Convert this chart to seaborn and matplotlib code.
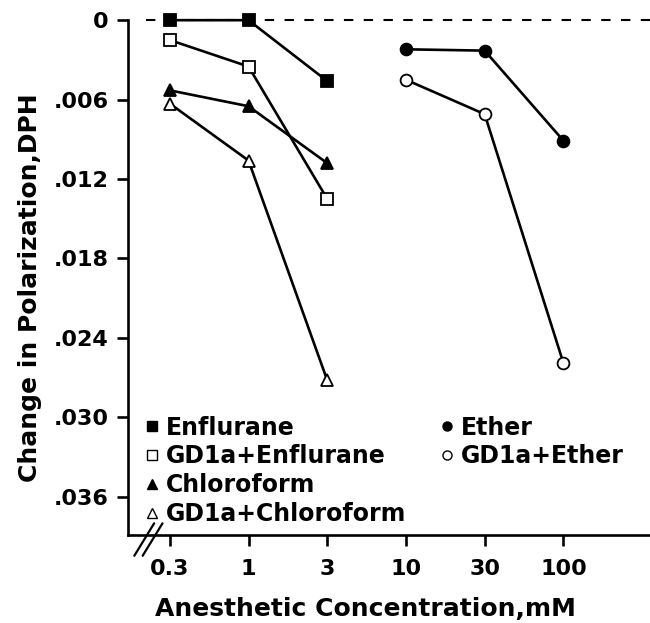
import numpy as np
import pandas as pd
import seaborn as sns
import matplotlib.pyplot as plt
from matplotlib.lines import Line2D

sns.set_style("ticks")
plt.rcParams['font.family'] = ['DejaVu Sans']
plt.rcParams['font.weight'] = 'bold'
for k in ['text.color', 'axes.labelcolor', 'xtick.color', 'ytick.color',
          'axes.edgecolor']:
    plt.rcParams[k] = 'black'


# DATOS
concentrations = ["0.3", "1", "3", "10", "30", "100"]
conc_low  = ["0.3", "1", "3"]
conc_high = ["10", "30", "100"]

enflurane       = [0.0000, 0.0000, 0.0046]
gd1a_enflurane  = [0.0015, 0.0035, 0.0135]
chloroform      = [0.0053, 0.0065, 0.0108]
gd1a_chloroform = [0.0063, 0.0106, 0.0272]
ether           = [0.0022, 0.0023, 0.0091]
gd1a_ether      = [0.0045, 0.0071, 0.0259]

yticks       = [0, 0.006, 0.012, 0.018, 0.024, 0.030, 0.036]
ytick_labels = ["0", ".006", ".012", ".018", ".024", ".030", ".036"]

series = [
    ("Enflurane",        conc_low,  enflurane,       "s", "black"),
    ("GD1a+Enflurane",   conc_low,  gd1a_enflurane,  "s", "white"),
    ("Chloroform",       conc_low,  chloroform,      "^", "black"),
    ("GD1a+Chloroform",  conc_low,  gd1a_chloroform, "^", "white"),
    ("Ether",            conc_high, ether,           "o", "black"),
    ("GD1a+Ether",       conc_high, gd1a_ether,      "o", "white"),
]


fig = plt.figure(figsize=(6.5, 6.23), dpi=100)
ax = fig.add_axes([0.197, 0.141, 0.803, 0.8266])

pos = {c: i for i, c in enumerate(concentrations)}

for name, conc, vals, marker, face in series:
    df = pd.DataFrame({"x": [pos[c] for c in conc], "y": vals})
    sns.lineplot(data=df, x="x", y="y", ax=ax, color="black", lw=1.9,
                 marker=marker, markersize=8.5, markerfacecolor=face,
                 markeredgecolor="black", markeredgewidth=1.3, clip_on=False)

ax.axhline(0, xmin=0.035, xmax=1, color="black", lw=1.5, dashes=(4.5, 5),
           clip_on=False, zorder=0)

ax.set_xlim(-0.53, 6.1)
ax.set_ylim(0.0389, 0)
ax.set_xticks(range(len(concentrations)))
ax.set_xticklabels(concentrations)
ax.set_yticks(yticks)
ax.set_yticklabels(ytick_labels)

for s in ["top", "right"]:
    ax.spines[s].set_visible(False)
for s in ["left", "bottom"]:
    ax.spines[s].set_linewidth(1.9)

ax.tick_params(axis='both', which='major', labelsize=16, width=1.9, length=8,
               direction='out', pad=6)
ax.tick_params(axis='x', pad=9)

ax.set_xlabel("Anesthetic Concentration,mM", fontsize=18, fontweight='bold')
ax.set_ylabel("Change in Polarization,DPH", fontsize=18, fontweight='bold')
ax.xaxis.set_label_coords(0.454, -0.12)
ax.yaxis.set_label_coords(-0.165, 0.48)

# marcas de corte del eje
for dx in [0.0, 0.016]:
    ax.plot([0.012 + dx, 0.05 + dx], [-0.04, 0.023], transform=ax.transAxes,
            color="black", lw=1.6, clip_on=False)

# leyendas
def proxies(items):
    return [Line2D([], [], ls="none", marker=m, markersize=6.5, color="black",
                   markerfacecolor=f, markeredgecolor="black",
                   markeredgewidth=1.0) for _, _, _, m, f in items]

leg_kw = dict(frameon=False, handlelength=0.5, handletextpad=0.35,
              labelspacing=0.2, borderaxespad=0, borderpad=0,
              prop={'size': 17, 'weight': 'bold'})
leg1 = ax.legend(proxies(series[:4]), [s[0] for s in series[:4]],
                 loc="upper left", bbox_to_anchor=(0.034, 0.232), **leg_kw)
ax.add_artist(leg1)
ax.legend(proxies(series[4:]), [s[0] for s in series[4:]],
          loc="upper left", bbox_to_anchor=(0.6, 0.232), **leg_kw)

fig.savefig("out.png")
